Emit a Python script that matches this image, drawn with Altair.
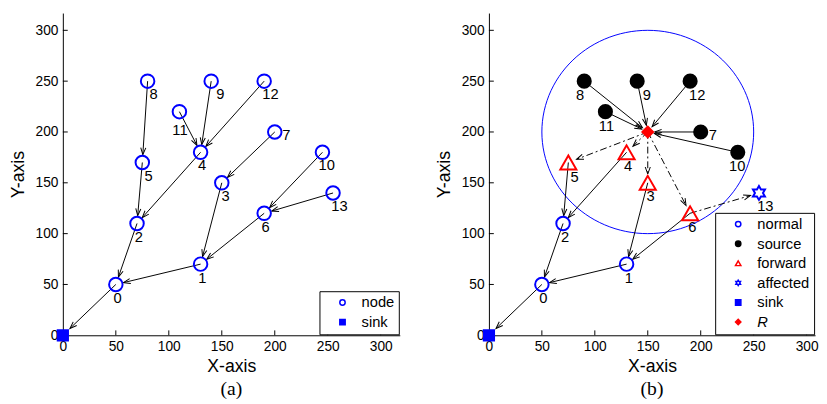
import math
import altair as alt
import numpy as np
import pandas as pd

# ------------------------------------------------------------------ data
TICKS = [0, 50, 100, 150, 200, 250, 300]

NODE_IDS = [str(i) for i in range(14)]

# panel (a)
A_X = [50, 130, 70, 150, 130, 75, 190, 200, 80, 140, 245, 110, 190, 255]
A_Y = [50, 70, 110, 150, 180, 170, 120, 200, 250, 250, 180, 220, 250, 140]
A_LX = [51.7, 131.7, 71.7, 153.6, 131.4, 81, 191.4, 211, 85.6, 148.6, 249, 110.5, 196, 261]
A_LY = [36.4, 56.6, 96.8, 137, 167.7, 157, 106.5, 197, 236.8, 236.8, 167.7, 202, 236.8, 126.7]
A_FROM = ["8", "5", "2", "0", "11", "9", "12", "4", "7", "3", "1", "10", "13", "6"]
A_TO = ["5", "2", "0", "S", "4", "4", "4", "2", "3", "1", "0", "6", "6", "1"]
A_ROLES = ["node", "sink"]

# panel (b)
B_X = [50, 130, 70, 150, 130, 75, 190, 200, 90, 140, 235, 110, 190, 255]
B_Y = [50, 70, 110, 150, 180, 170, 120, 200, 250, 250, 180, 220, 250, 140]
B_ROLE = ["normal", "normal", "normal", "forward", "forward", "forward", "forward",
          "source", "source", "source", "source", "source", "source", "affected"]
B_LX = [51.4, 132, 72, 152.6, 131.4, 81, 192, 211.5, 86, 149, 234.5, 111, 196.7, 261]
B_LY = [36.4, 56.6, 96.8, 137, 166.7, 156, 106.5, 196.6, 236, 236, 166, 206, 236, 127.5]
B_SOLID_FROM = ["8", "9", "12", "11", "7", "10", "5", "4", "3", "6", "2", "1", "0"]
B_SOLID_TO = ["R", "R", "R", "R", "R", "R", "2", "2", "1", "1", "0", "0", "S"]
B_DASH_FROM = ["R", "R", "R", "R", "6"]
B_DASH_TO = ["5", "4", "3", "6", "13"]
B_ROLES = ["normal", "source", "forward", "affected", "sink", "R"]

SINK_POS = (0, 0)
R_POS = (150, 200)
R_RANGE = 100

# ------------------------------------------------------------------ style
BLUE, RED, BLACK = "#0000ff", "#ff0000", "#000000"
FONT, SERIF = "Liberation Sans", "Liberation Serif"
W_A, W_B, H = 344, 333, 329
XMAX_A, XMAX_B, YMAX = 318, 308, 317
SY = H / YMAX

ARROW = "M-0.8,2.2L0,0L0.8,2.2"
HEX = ("M0,-1L-0.289,-0.5L-0.866,-0.5L-0.577,0L-0.866,0.5L-0.289,0.5L0,1"
       "L0.289,0.5L0.866,0.5L0.577,0L0.866,-0.5L0.289,-0.5Z")
GAP = {"node": 8, "normal": 8, "forward": 9, "affected": 9, "sink": 10, "R": 7, "source": 8}


def edge_table(frm, to, pos, role, sx):
    rows = []
    for f, t in zip(frm, to):
        x1, y1 = pos[f]
        x2, y2 = pos[t]
        dxp, dyp = (x2 - x1) * sx, (y2 - y1) * SY
        L = math.hypot(dxp, dyp)
        g = GAP[role[t]]
        rows.append({"x": x1, "y": y1,
                     "tx": x2 - dxp / L * g / sx, "ty": y2 - dyp / L * g / SY,
                     "ang": math.degrees(math.atan2(dxp, dyp)) % 360})
    return pd.DataFrame(rows)


def panel(nodes, labels, solid, dash, domain, shapes, fills, strokes, sizes,
          width, xmax, caption, ring=None):
    xs = alt.Scale(domain=[0, xmax], nice=False, zero=False)
    ys = alt.Scale(domain=[0, YMAX], nice=False, zero=False)
    xax = alt.Axis(values=TICKS, title="X-axis", titlePadding=4)
    yax = alt.Axis(values=TICKS, title="Y-axis", titlePadding=8)
    X = lambda f: alt.X(f, type="quantitative", scale=xs, axis=xax)
    Y = lambda f: alt.Y(f, type="quantitative", scale=ys, axis=yax)

    tick_df = pd.DataFrame({"v": TICKS})
    layers = [
        alt.Chart(tick_df).mark_rule(color=BLACK, strokeWidth=1).encode(
            x=X("v"), y=alt.value(H), y2=alt.value(H - 5)),
        alt.Chart(tick_df).mark_rule(color=BLACK, strokeWidth=1).encode(
            y=Y("v"), x=alt.value(0), x2=alt.value(5)),
    ]
    if ring is not None:
        layers.append(alt.Chart(ring).mark_line(color=BLUE, strokeWidth=1).encode(
            x=X("x"), y=Y("y"), order="o:Q"))
    layers.append(alt.Chart(solid).mark_rule(color=BLACK, strokeWidth=1).encode(
        x=X("x"), y=Y("y"), x2="tx", y2="ty"))
    edges = [solid]
    if dash is not None:
        layers.append(alt.Chart(dash).mark_rule(color=BLACK, strokeWidth=1,
                                                strokeDash=[7, 3, 2, 3]).encode(
            x=X("x"), y=Y("y"), x2="tx", y2="ty"))
        edges.append(dash)
    heads = pd.concat(edges, ignore_index=True)
    layers.append(alt.Chart(heads).mark_point(shape=ARROW, size=42, filled=False,
                                              color=BLACK, strokeWidth=1, opacity=1).encode(
        x=X("tx"), y=Y("ty"), angle=alt.Angle("ang:Q", scale=None)))

    leg = alt.Legend(title=None, orient="bottom-right", offset=1,
                     strokeColor=BLACK, fillColor="white", padding=4,
                     labelFont=FONT, labelFontSize=15, labelColor=BLACK,
                     symbolSize=30, symbolStrokeWidth=1.5, symbolOffset=12,
                     labelOffset=12, rowPadding=4, cornerRadius=0,
                     labelFontStyle=alt.ExprRef(
                         "datum.label === 'R' ? 'italic' : 'normal'"))
    # the size scale lists the roles in reverse order so that its (hidden)
    # legend is not merged with the shape / fill / stroke legend
    layers.append(alt.Chart(nodes).mark_point(filled=True, strokeWidth=2, opacity=1).encode(
        x=X("x"), y=Y("y"),
        shape=alt.Shape("role:N", scale=alt.Scale(domain=domain, range=shapes), legend=leg),
        fill=alt.Fill("role:N", scale=alt.Scale(domain=domain, range=fills), legend=leg),
        stroke=alt.Stroke("role:N", scale=alt.Scale(domain=domain, range=strokes), legend=leg),
        size=alt.Size("grp:N", scale=alt.Scale(type="ordinal", domain=domain[::-1],
                                               range=sizes[::-1]),
                      legend=None),
    ))
    layers.append(alt.Chart(labels).mark_text(font=FONT, fontSize=15, color=BLACK,
                                              align="center", baseline="middle").encode(
        x=X("x"), y=Y("y"), text="t:N"))
    return alt.layer(*layers).properties(
        width=width, height=H,
        title=alt.TitleParams(text=caption, orient="bottom", font=SERIF, fontSize=20,
                              fontWeight="normal", color=BLACK, offset=4, anchor="middle"))


# ---------------- panel (a)
pos_a = {i: (x, y) for i, x, y in zip(NODE_IDS, A_X, A_Y)}
pos_a["S"] = SINK_POS
role_a = {i: "node" for i in NODE_IDS}
role_a["S"] = "sink"
nodes_a = pd.DataFrame({"x": A_X + [SINK_POS[0]], "y": A_Y + [SINK_POS[1]],
                        "role": ["node"] * 14 + ["sink"]})
nodes_a["grp"] = nodes_a["role"]
labels_a = pd.DataFrame({"x": A_LX, "y": A_LY, "t": NODE_IDS})
solid_a = edge_table(A_FROM, A_TO, pos_a, role_a, W_A / XMAX_A)
chart_a = panel(nodes_a, labels_a, solid_a, None, A_ROLES,
                ["circle", "square"], ["transparent", BLUE], [BLUE, BLUE], [190, 110],
                W_A, XMAX_A, "(a)")

# ---------------- panel (b)
pos_b = {i: (x, y) for i, x, y in zip(NODE_IDS, B_X, B_Y)}
pos_b["S"] = SINK_POS
pos_b["R"] = R_POS
role_b = dict(zip(NODE_IDS, B_ROLE))
role_b["S"] = "sink"
role_b["R"] = "R"
nodes_b = pd.DataFrame({"x": B_X + [SINK_POS[0], R_POS[0]],
                        "y": B_Y + [SINK_POS[1], R_POS[1]],
                        "role": B_ROLE + ["sink", "R"]})
nodes_b["grp"] = nodes_b["role"]
labels_b = pd.DataFrame({"x": B_LX, "y": B_LY, "t": NODE_IDS})
sx_b = W_B / XMAX_B
solid_b = edge_table(B_SOLID_FROM, B_SOLID_TO, pos_b, role_b, sx_b)
dash_b = edge_table(B_DASH_FROM, B_DASH_TO, pos_b, role_b, sx_b)
theta = np.linspace(0, 2 * np.pi, 121)
ring = pd.DataFrame({"x": R_POS[0] + R_RANGE * np.cos(theta),
                     "y": R_POS[1] + R_RANGE * np.sin(theta),
                     "o": np.arange(len(theta))})
chart_b = panel(nodes_b, labels_b, solid_b, dash_b, B_ROLES,
                ["circle", "circle", "triangle-up", HEX, "square", "diamond"],
                ["transparent", BLACK, "transparent", "transparent", BLUE, RED],
                [BLUE, BLACK, RED, BLUE, BLUE, RED],
                [190, 180, 270, 200, 110, 120],
                W_B, XMAX_B, "(b)", ring=ring)

chart = alt.hconcat(chart_a, chart_b, spacing=35).resolve_scale(
    shape="independent", fill="independent", stroke="independent", size="independent"
).properties(
    padding={"left": 1, "top": 0, "right": 0, "bottom": 0}
).configure_view(stroke="transparent").configure_axis(
    grid=False, ticks=False, domainColor=BLACK, domainWidth=1,
    labelFont=FONT, labelFontSize=14, labelColor=BLACK, labelPadding=5, labelFlush=False,
    titleFont=FONT, titleFontSize=18, titleFontWeight="normal", titleColor=BLACK,
)

chart.save("out.html", embed_options={"renderer": "svg", "actions": False})
